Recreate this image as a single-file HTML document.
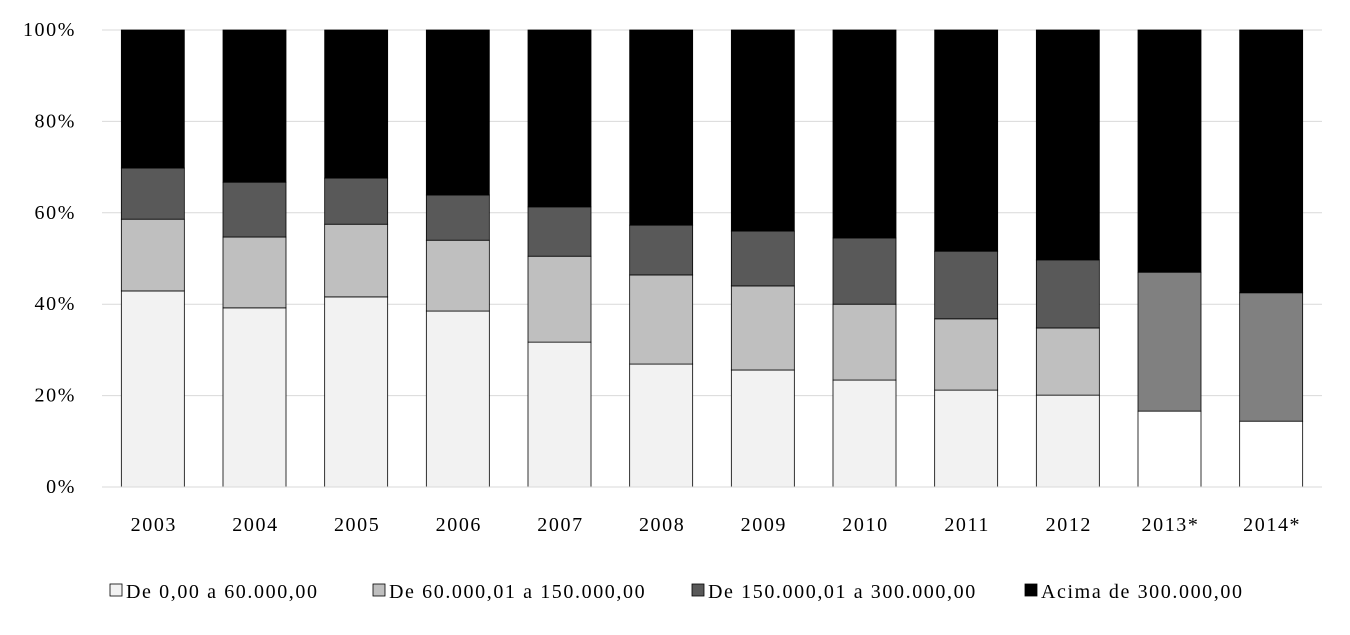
<!DOCTYPE html>
<html><head><meta charset="utf-8"><style>
body{margin:0;background:#fff;}
svg text{font-family:"Liberation Serif",serif;font-size:20px;letter-spacing:1.6px;fill:#000;}
</style></head><body>
<svg id="chart" width="1350" height="630" xmlns="http://www.w3.org/2000/svg"></svg>
<script>
const categories=["2003","2004","2005","2006","2007","2008","2009","2010","2011","2012","2013*","2014*"];
const s1=[42.9,39.2,41.6,38.5,31.7,26.9,25.6,23.4,21.2,20.1,16.6,14.4];
const s2=[15.7,15.5,15.9,15.5,18.8,19.5,18.4,16.6,15.6,14.7,0,0];
const s3=[11.2,12.0,10.1,9.9,10.8,10.9,12.0,14.5,14.8,14.9,30.4,28.1];
const s4=[30.2,33.3,32.4,36.1,38.7,42.7,44.0,45.5,48.4,50.3,53.0,57.5];
const yTicks=[0,20,40,60,80,100];
const seriesNames=["De 0,00 a 60.000,00","De 60.000,01 a 150.000,00","De 150.000,01 a 300.000,00","Acima de 300.000,00"];
const NS="http://www.w3.org/2000/svg";
const svg=document.getElementById('chart');
const x0=102,x1=1322,y0=487,y1=30;
const step=(x1-x0)/categories.length,bw=63;
const yS=v=>y0-(v/100)*(y0-y1);
const xC=i=>x0+step*(i+0.5);
function mk(t,a){const e=document.createElementNS(NS,t);for(const k in a)e.setAttribute(k,a[k]);svg.appendChild(e);return e;}
yTicks.forEach(t=>{
 const g=mk('line',{x1:x0,x2:x1,y1:yS(t),y2:yS(t),stroke:'#d9d9d9','stroke-width':1});
 
 
 const l=mk('text',{x:76,y:yS(t)+6,'text-anchor':'end'});l.textContent=t+'%';
 
 
});
const series=[s1,s2,s3,s4];
const fills=["#f2f2f2","#bfbfbf","#595959","#000000"];
categories.forEach((c,i)=>{
 let acc=0;
 const special=c.indexOf('*')>=0;
 series.forEach((s,k)=>{
  const v=s[i];if(v<=0){return;}
  let f=fills[k];
  if(special&&k===0)f="#ffffff";
  if(special&&k===2)f="#808080";
  const r=mk('rect',{x:xC(i)-bw/2,y:yS(acc+v),width:bw,height:yS(acc)-yS(acc+v),fill:f,stroke:'#000','stroke-width':0.8});
  
  
  acc+=v;
 });
 const t=mk('text',{x:xC(i)+1,y:531,'text-anchor':'middle'});t.textContent=c;
 
 
});
const ax=mk('line',{x1:x0,x2:x1,y1:y0,y2:y0,stroke:'#d9d9d9','stroke-width':1});


const lx=[110,373,692,1025];
seriesNames.forEach((n,k)=>{
 const r=mk('rect',{x:lx[k],y:584,width:12,height:12,fill:fills[k],stroke:'#000','stroke-width':0.8});
 
 
 const t=mk('text',{x:lx[k]+16,y:598});t.textContent=n;
 
 
});
</script>
</body></html>
